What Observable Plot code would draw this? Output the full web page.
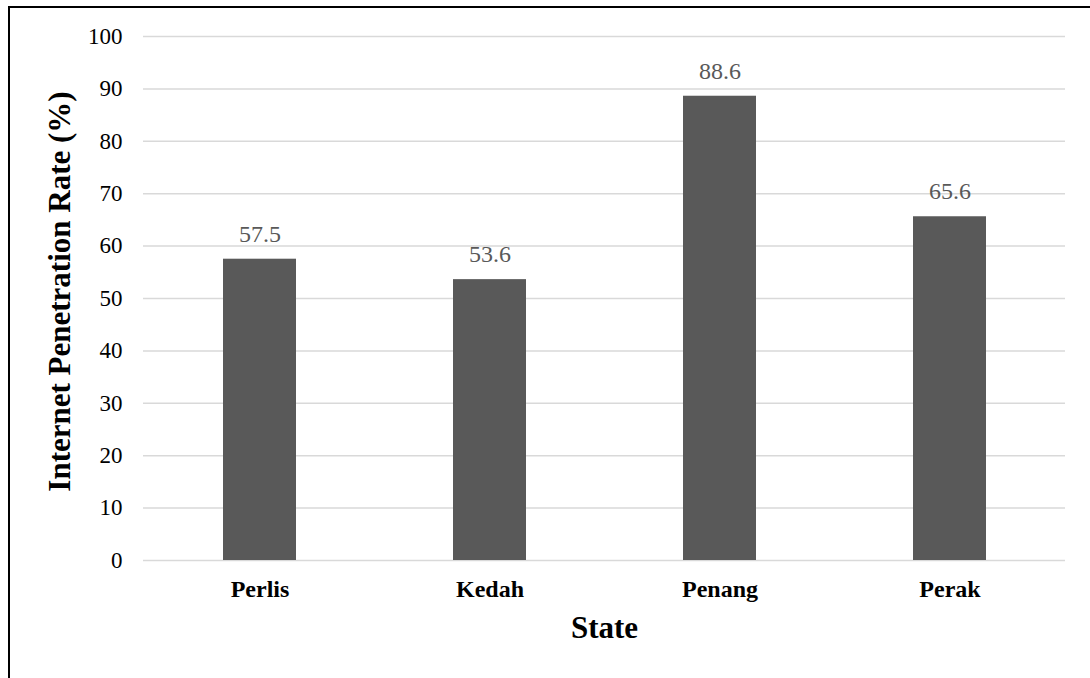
<!DOCTYPE html>
<html>
<head>
<meta charset="utf-8">
<script src="https://cdn.jsdelivr.net/npm/d3@7"></script>
<script src="https://cdn.jsdelivr.net/npm/@observablehq/plot@0.6"></script>
<style>
  html, body { margin: 0; padding: 0; background: #fff; }
  #wrap { position: relative; width: 1090px; height: 678px; overflow: hidden; }
  #frame { position: absolute; left: 8px; top: 6px; width: 1200px; height: 800px;
           border-left: 2px solid #000; border-top: 2px solid #000; pointer-events: none; }
  #wrap svg { font-family: "Liberation Serif", "Times New Roman", serif; }
</style>
</head>
<body>
<div id="wrap"><div id="frame"></div></div>
<script>
const states = ["Perlis", "Kedah", "Penang", "Perak"];
const rates = [57.5, 53.6, 88.6, 65.6];
const yTicks = [0, 10, 20, 30, 40, 50, 60, 70, 80, 90, 100];
const yTitle = "Internet Penetration Rate (%)";
const xTitle = "State";

const data = states.map((s, i) => ({state: s, rate: rates[i]}));
const serif = "Liberation Serif";

const chart = Plot.plot({
  width: 1090,
  height: 678,
  marginTop: 36,
  marginBottom: 118,
  marginLeft: 143,
  marginRight: 25,
  style: {fontFamily: serif, background: "transparent"},
  x: {domain: states, paddingInner: 0.683, paddingOuter: 0.342, label: null},
  y: {domain: [0, 100], label: null},
  marks: [
    Plot.gridY(yTicks, {stroke: "#d9d9d9", strokeOpacity: 1, strokeWidth: 1.5}),
    Plot.barY(data, {x: "state", y: "rate", fill: "#595959"}),
    Plot.text(data, {x: "state", y: "rate", text: d => d.rate.toFixed(1), dy: -25,
      fill: "#595959", fontSize: 24, fontFamily: serif}),
    Plot.axisY(yTicks, {tickSize: 0, tickPadding: 21, fontSize: 23, fill: "#000", label: null, tickFormat: d => String(d), fontFamily: serif}),
    Plot.axisX({tickSize: 0, tickPadding: 19, fontSize: 24, fontWeight: "bold", fill: "#000", label: null, fontFamily: serif}),
    Plot.text([yTitle], {frameAnchor: "left", textAnchor: "middle", rotate: -90, dx: -83, dy: -7,
      fontSize: 31, fontWeight: "bold", fill: "#000", fontFamily: serif}),
    Plot.text([xTitle], {frameAnchor: "bottom", dy: 77,
      fontSize: 31, fontWeight: "bold", fill: "#000", fontFamily: serif})
  ]
});
document.getElementById("wrap").appendChild(chart);
</script>
</body>
</html>
